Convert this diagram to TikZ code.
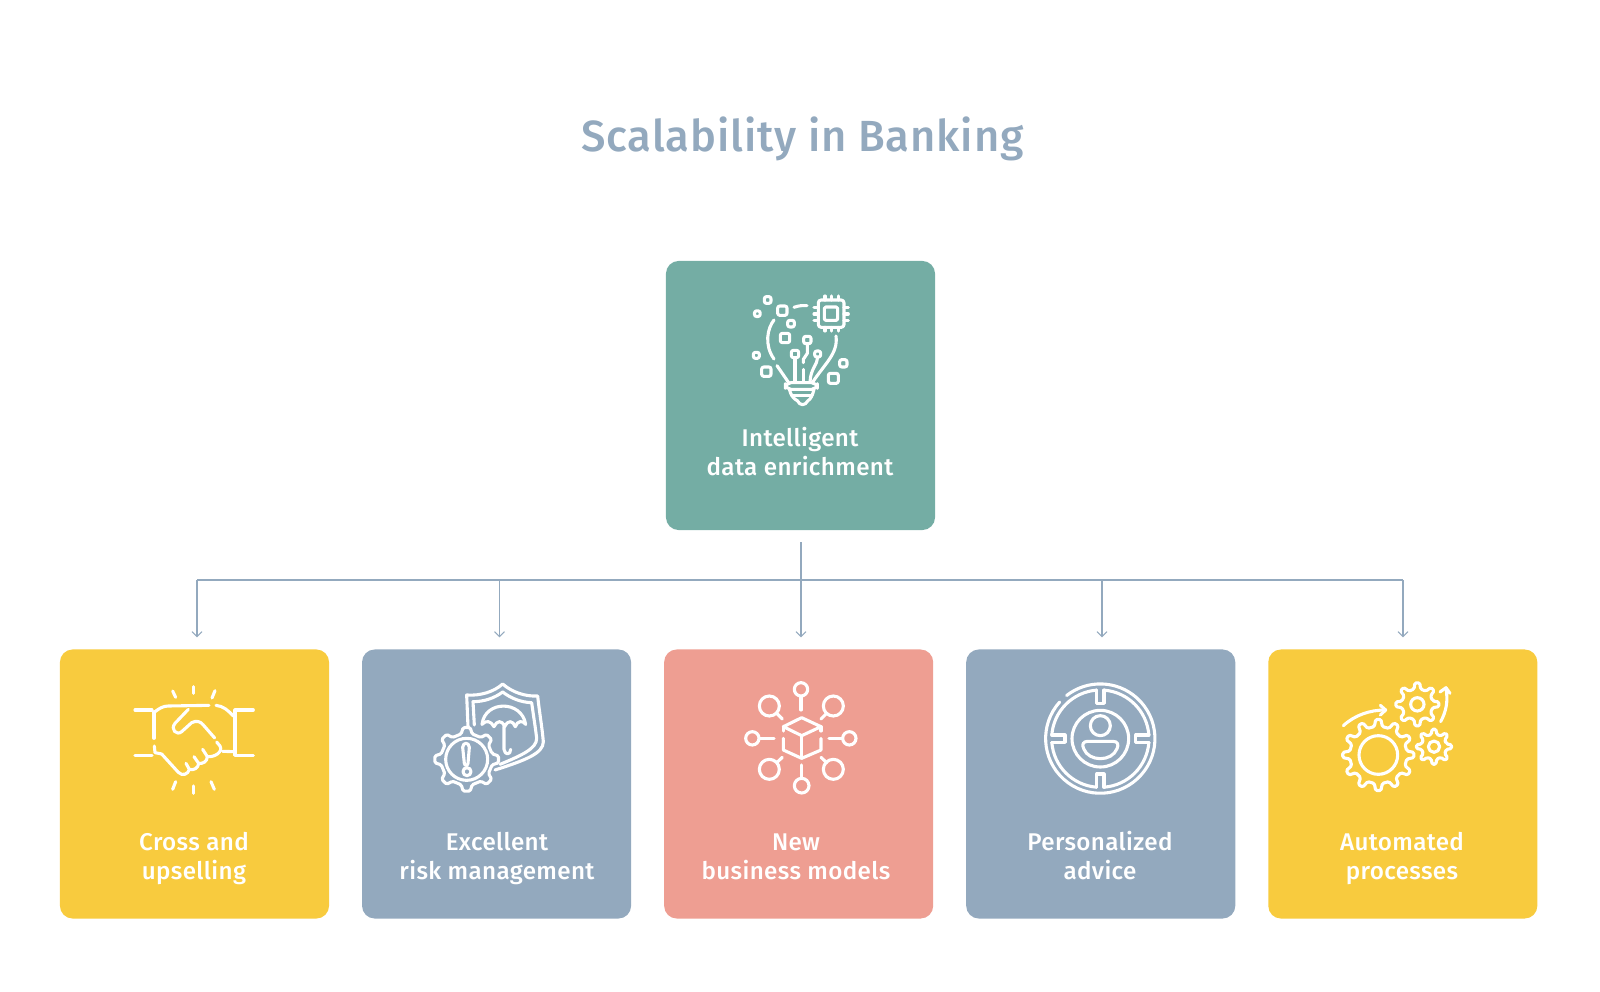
\documentclass[tikz,border=0pt]{standalone}
\usepackage{fontspec}
\setmainfont{Fira Sans Medium}[LetterSpace=1.5]
\newfontfamily\titlefont{Fira Sans Medium}[LetterSpace=2]
\usetikzlibrary{arrows.meta,positioning,calc}
\definecolor{tealcard}{RGB}{116,173,164}
\definecolor{goldcard}{RGB}{248,203,62}
\definecolor{slatecard}{RGB}{147,169,190}
\definecolor{salmoncard}{RGB}{238,158,146}
\definecolor{linkline}{RGB}{147,169,190}
\tikzset{
  card/.style={rounded corners=9pt,minimum width=6.725cm,minimum height=6.725cm,inner sep=0pt,outer sep=0pt},
  cardlabel/.style={text=white,align=center,inner sep=0pt,font=\fontsize{17.2}{20.8}\selectfont},
  link/.style={linkline,line width=0.75pt},
  icon/.style={draw=white,line width=2.2pt,line cap=round,line join=round},
  iconarea/.style 2 args={shift={(#1,#2)},x=0.008333cm,y=-0.008333cm},
}
\newcommand{\cardlines}[2]{\strut #1\\\strut #2}
% gear outline: centre x, centre y, root radius, tip radius, teeth
\newcommand{\gearoutline}[5]{
  \pgfmathsetmacro{\gearstep}{360/#5}
  \begin{scope}[shift={(#1,#2)}]
    \draw[icon,rounded corners=1pt] (-0.27*\gearstep:#3)
      \foreach \tooth in {1,...,#5} {
        -- ({(\tooth-1)*\gearstep-0.14*\gearstep}:#4) -- ({(\tooth-1)*\gearstep+0.14*\gearstep}:#4)
        -- ({(\tooth-1)*\gearstep+0.27*\gearstep}:#3) -- ({(\tooth-1)*\gearstep+0.73*\gearstep}:#3)
      } -- cycle;
  \end{scope}
}
\begin{document}
\begin{tikzpicture}[x=0.025cm,y=-0.025cm,>={Straight Barb[length=3.6pt,width=7pt]}]
  \useasboundingbox (0,0) rectangle (1600,992);
  \node[text=slatecard,inner sep=0pt,anchor=base,font=\titlefont\fontsize{31}{37}\selectfont] (title) at (802.5,152) {Scalability in Banking};

  \node[card,fill=tealcard] (enrich) at (800.5,395.5) {};
  \node[card,fill=goldcard] (cross) at (194.5,784) {};
  \node[card,fill=slatecard,right=0.825cm of cross] (risk) {};
  \node[card,fill=salmoncard,right=0.825cm of risk] (models) {};
  \node[card,fill=slatecard,right=0.825cm of models] (advice) {};
  \node[card,fill=goldcard,right=0.825cm of advice] (auto) {};

  \node[cardlabel] (enrichlabel) at (800,455) {\cardlines{Intelligent}{data enrichment}};
  \node[cardlabel] (crosslabel) at (194,859) {\cardlines{Cross and}{upselling}};
  \node[cardlabel] (risklabel) at (497,859) {\cardlines{Excellent}{risk management}};
  \node[cardlabel] (modelslabel) at (796,859) {\cardlines{New}{business models}};
  \node[cardlabel] (advicelabel) at (1100,859) {\cardlines{Personalized}{advice}};
  \node[cardlabel] (autolabel) at (1402,859) {\cardlines{Automated}{processes}};

  \coordinate (bus1) at (197,580);
  \coordinate (bus2) at (499.5,580);
  \coordinate (bus3) at (801,580);
  \coordinate (bus4) at (1102,580);
  \coordinate (bus5) at (1403,580);
  \draw[link] (bus1) -- (bus5);
  \draw[link,->,shorten <=0.3cm,shorten >=0.3cm] (bus3 |- enrich.south) -- (bus3 |- models.north);
  \draw[link,->,shorten >=0.3cm] (bus1) -- (bus1 |- cross.north);
  \draw[link,->,shorten >=0.3cm] (bus2) -- (bus2 |- risk.north);
  \draw[link,->,shorten >=0.3cm] (bus4) -- (bus4 |- advice.north);
  \draw[link,->,shorten >=0.3cm] (bus5) -- (bus5 |- auto.north);

  % bulb
  \begin{scope}[iconarea={660}{250}]
    \draw[icon,rounded corners=2pt] (475,150) rectangle (552,232);
    \draw[icon,rounded corners=1pt] (493,171) rectangle (533,211);
    \foreach \p in {495,515,535} {
      \draw[icon] (\p,138) -- (\p,150);
      \draw[icon] (\p,232) -- (\p,243);
    }
    \foreach \p in {172,192,212} {
      \draw[icon] (462,\p) -- (475,\p);
      \draw[icon] (552,\p) -- (565,\p);
    }
    \foreach \x/\y/\s in {323/150/20,292/191/17,367/182/28,393/221/20,375/264/28,442/270/22,405/312/22,473/312/18,289/316/18,319/365/28,520/385/30,550/340/22} {
      \draw[icon,rounded corners=1.5pt] ({\x-\s/2},{\y-\s/2}) rectangle ++(\s,\s);
    }
    \draw[icon] (402,172) .. controls (415,167) and (428,166) .. (441,167);
    \draw[icon] (342,210) .. controls (322,235) and (312,285) .. (342,327);
    \draw[icon] (351,347) -- (386,398);
    \draw[icon] (528,258) .. controls (535,310) and (495,340) .. (457,398);
    \draw[icon,rounded corners=4pt] (376,398) rectangle (472,418);
    \draw[icon] (388,418) .. controls (392,435) and (402,448) .. (412,452) .. controls (420,468) and (435,468) .. (444,452) .. controls (452,448) and (458,435) .. (462,418);
    \draw[icon] (394,436) -- (456,436);
    \draw[icon] (405,324) -- (405,396);
    \draw[icon] (442,282) -- (442,310) -- (430,328) -- (430,338);
    \draw[icon] (430,358) -- (430,396);
    \draw[icon] (473,322) .. controls (472,345) and (452,355) .. (450,396);
  \end{scope}

  % handshake
  \begin{scope}[iconarea={60}{640}]
    \draw[icon] (225,210) -- (276,210);
    \draw[icon] (225,346) -- (276,346);
    \draw[icon] (282,215) -- (282,295);
    \draw[icon] (580,210) -- (525,210) -- (525,346) -- (580,346);
    \draw[icon] (285,215) .. controls (298,205) and (310,198) .. (325,198) -- (447,196);
    \draw[icon] (468,196) .. controls (490,198) and (505,212) .. (520,228);
    \draw[icon] (283,318) -- (285,338) -- (305,342) -- (355,397) .. controls (368,410) and (385,402) .. (388,388) -- (378,370);
    \draw[icon] (388,388) .. controls (400,392) and (415,385) .. (416,370) -- (402,350);
    \draw[icon] (416,370) .. controls (428,372) and (442,365) .. (442,350) -- (428,328);
    \draw[icon] (442,350) .. controls (465,352) and (490,335) .. (480,318) -- (470,306);
    \draw[icon] (385,208) -- (345,250) .. controls (330,268) and (350,288) .. (365,275) -- (395,248) .. controls (410,240) and (422,245) .. (430,255) -- (464,294);
    \draw[icon] (488,334) -- (522,335);
    \draw[icon] (400,140) -- (400,160);
    \draw[icon] (338,153) -- (347,172);
    \draw[icon] (465,152) -- (456,174);
    \draw[icon] (400,438) -- (400,460);
    \draw[icon] (347,425) -- (338,448);
    \draw[icon] (453,425) -- (463,448);
  \end{scope}

  % shield and gear
  \begin{scope}[iconarea={400}{670}]
    \draw[icon] (204,170) -- (200,75) .. controls (242,78) and (282,65) .. (308,42) .. controls (338,68) and (378,80) .. (413,78) .. controls (418,125) and (426,170) .. (430,215) .. controls (430,250) and (378,270) .. (285,300);
    \draw[icon] (223,165) -- (219,95) .. controls (252,95) and (282,85) .. (308,66) .. controls (333,85) and (363,97) .. (395,98) .. controls (400,135) and (406,170) .. (410,205) .. controls (410,235) and (368,255) .. (300,283);
    \draw[icon] (246,163) .. controls (255,90) and (365,90) .. (377,163);
    \draw[icon] (246,163) .. controls (258,150) and (272,152) .. (282,170) .. controls (290,152) and (305,148) .. (314,170) .. controls (325,148) and (338,152) .. (346,170) .. controls (352,152) and (368,150) .. (377,163);
    \draw[icon] (312,170) -- (312,238) .. controls (314,256) and (332,256) .. (332,238);
    \gearoutline{200}{268}{78}{96}{8}
    \draw[icon] (200,268) circle[radius=63];
    \draw[icon] (188,232) .. controls (188,216) and (208,216) .. (208,232) -- (204,280) .. controls (203,288) and (194,288) .. (193,280) -- cycle;
    \draw[icon] (201,305) circle[radius=12];
  \end{scope}

  % hub and cube
  \begin{scope}[iconarea={720}{670}]
    \draw[icon] (245,143) -- (303,170) -- (245,197) -- (190,170) -- cycle;
    \draw[icon] (190,170) -- (190,183);
    \draw[icon] (303,170) -- (303,183);
    \draw[icon] (190,205) -- (190,240) -- (245,265) -- (303,240) -- (303,205);
    \draw[icon] (245,197) -- (245,262);
    \foreach \x/\y/\r/\ax/\ay/\bx/\by in {243/58/20/243/80/243/120,245/347/22/245/322/245/285,97/205/20/118/205/162/205,388/205/20/365/205/327/205,148/108/30/170/130/187/147,340/108/30/320/130/303/147,148/298/30/170/278/187/262,340/298/30/320/278/303/262} {
      \draw[icon] (\x,\y) circle[radius=\r];
      \draw[icon] (\ax,\ay) -- (\bx,\by);
    }
  \end{scope}

  % target and person
  \begin{scope}[iconarea={1020}{670}]
    \begin{scope}[shift={(241,206)}]
      \draw[icon] (-122,-110) arc[start angle=222,end angle=-128,radius=164];
      \foreach \a in {0,90,180,270} {
        \draw[icon] (\a+4.5:146) arc[start angle=\a+4.5,end angle=\a+85.5,radius=146];
        \begin{scope}[rotate=\a]
          \draw[icon] (146,-11) -- (106,-11) -- (106,11) -- (146,11);
        \end{scope}
      }
      \draw[icon] (0,0) circle[radius=85];
      \draw[icon] (0,-39) circle[radius=30];
      \draw[icon] (-38,8) -- (38,8) .. controls (52,8) and (56,18) .. (50,30) .. controls (35,70) and (-35,70) .. (-50,30) .. controls (-56,18) and (-52,8) .. (-38,8) -- cycle;
    \end{scope}
  \end{scope}

  % gears
  \begin{scope}[iconarea={1320}{670}]
    \gearoutline{175}{255}{86}{107}{12}
    \draw[icon] (175,255) circle[radius=58];
    \gearoutline{292}{103}{47}{65}{8}
    \draw[icon] (292,103) circle[radius=20];
    \gearoutline{342}{230}{38}{53}{8}
    \draw[icon] (342,230) circle[radius=17];
    \draw[icon] (70,167) .. controls (105,135) and (150,120) .. (195,120);
    \draw[icon] (181,106) -- (197,120) -- (181,135);
    \draw[icon] (362,155) .. controls (378,125) and (385,95) .. (378,55);
    \draw[icon] (360,66) -- (378,53) -- (390,70);
  \end{scope}
\end{tikzpicture}
\end{document}
